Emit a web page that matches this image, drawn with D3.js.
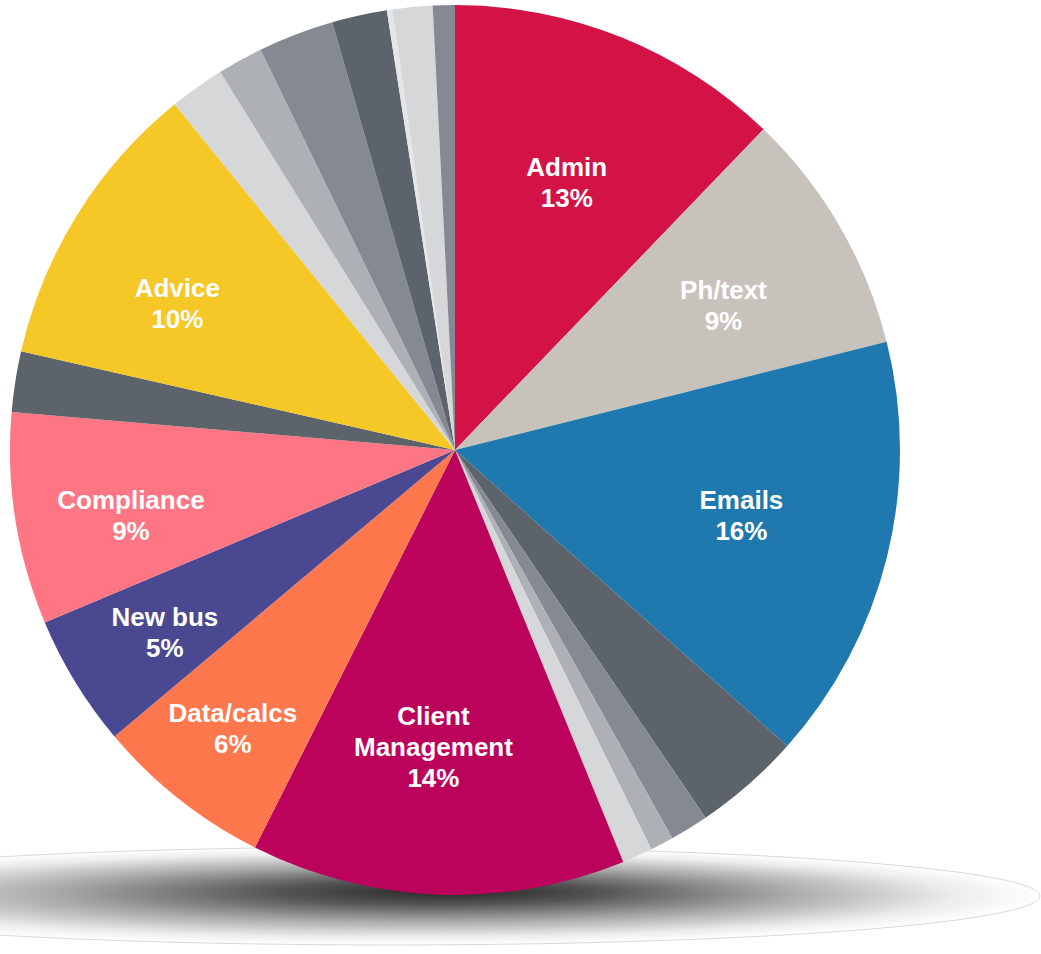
<!DOCTYPE html>
<html>
<head>
<meta charset="utf-8">
<script src="https://cdn.jsdelivr.net/npm/d3@7"></script>
<style>
  html, body { margin: 0; padding: 0; background: #fff; }
  svg { display: block; }
</style>
</head>
<body>
<div id="chart"></div>
<script>
// slices clockwise from 12 o'clock; unnamed slices carry no label
const names = ["Admin", "Ph/text", "Emails", "", "", "", "", "Client\nManagement", "Data/calcs", "New bus",
    "Compliance", "", "Advice", "", "", "", "", "", "", ""];
const values = [12.2, 8.9, 15.5, 3.9, 1.4, 0.85, 1.1, 13.6, 6.45, 4.8,
    7.7, 2.2, 10.6, 2.0, 1.65, 2.75, 2.0, 0.2, 1.45, 0.8];
const pctLabels = ["13%", "9%", "16%", "", "", "", "", "14%", "6%", "5%",
    "9%", "", "10%", "", "", "", "", "", "", ""];
const colors = ["#D31245", "#C8C2BD", "#1F78AE", "#5C636B", "#858A92", "#ADB0B4", "#D6D7D9", "#BC035C", "#FE774D", "#4A4891",
    "#FE7584", "#5C636B", "#F5C727", "#D6D7D9", "#ADB0B4", "#858A92", "#5C636B", "#E5E6E8", "#D6D7D9", "#858A92"];
// label placement: distance from centre (share of radius) and turn from mid-angle (degrees)
const labelDist = [0.652, 0.685, 0.66, 0, 0, 0, 0, 0.67, 0.80, 0.77, 0.743, 0, 0.706, 0, 0, 0, 0, 0, 0, 0];
const labelTurn = [0.7, 1.8, -1, 0, 0, 0, 0, 1.9, 0.3, -0.7, -2.5, 0, -4, 0, 0, 0, 0, 0, 0, 0];

const width = 1041, height = 954;
const cx = 455, cy = 450, radius = 445;

const svg = d3.select("#chart")
    .append("svg")
    .attr("width", width)
    .attr("height", height);

// floor shadow
const defs = svg.append("defs");
const grad = defs.append("radialGradient")
    .attr("id", "shadow")
    .attr("cx", "0.5").attr("cy", "0.5").attr("r", "0.5")
    .attr("fx", "0.55").attr("fy", "0.45");
grad.append("stop").attr("offset", "0").attr("stop-color", "#262626");
grad.append("stop").attr("offset", "0.25").attr("stop-color", "#555");
grad.append("stop").attr("offset", "0.55").attr("stop-color", "#a6a6a6");
grad.append("stop").attr("offset", "0.85").attr("stop-color", "#ececec");
grad.append("stop").attr("offset", "1").attr("stop-color", "#fff");

svg.append("ellipse")
    .attr("cx", 390)
    .attr("cy", 896)
    .attr("rx", 650)
    .attr("ry", 49)
    .attr("fill", "url(#shadow)")
    .attr("stroke", "#d9d9d9")
    .attr("stroke-width", 1);

const data = values.map((v, i) => ({
    name: names[i], value: v, pct: pctLabels[i], color: colors[i],
    dist: labelDist[i], turn: labelTurn[i]
}));

const pie = d3.pie()
    .sort(null)
    .value(d => d.value);

const arc = d3.arc()
    .innerRadius(0)
    .outerRadius(radius);

const g = svg.append("g")
    .attr("transform", `translate(${cx},${cy})`);

const arcs = pie(data);

g.selectAll("path")
    .data(arcs)
    .join("path")
    .attr("d", arc)
    .attr("fill", d => d.data.color);

const labels = g.selectAll("text")
    .data(arcs.filter(d => d.data.name !== ""))
    .join("text")
    .attr("text-anchor", "middle")
    .attr("fill", "#fff")
    .style("font-family", "'Liberation Sans', Arial, sans-serif")
    .style("font-weight", "bold")
    .style("font-size", "26px")
    .attr("transform", d => {
        const a = (d.startAngle + d.endAngle) / 2 + d.data.turn * Math.PI / 180;
        const r = radius * d.data.dist;
        return `translate(${r * Math.sin(a)},${-r * Math.cos(a)})`;
    });

labels.each(function (d) {
    const lines = d.data.name.split("\n").concat([d.data.pct]);
    const lh = 31;
    const y0 = -(lines.length - 1) * lh / 2 + 9;
    d3.select(this).selectAll("tspan")
        .data(lines)
        .join("tspan")
        .attr("x", 0)
        .attr("y", (t, i) => y0 + i * lh)
        .text(t => t);
});
</script>
</body>
</html>
